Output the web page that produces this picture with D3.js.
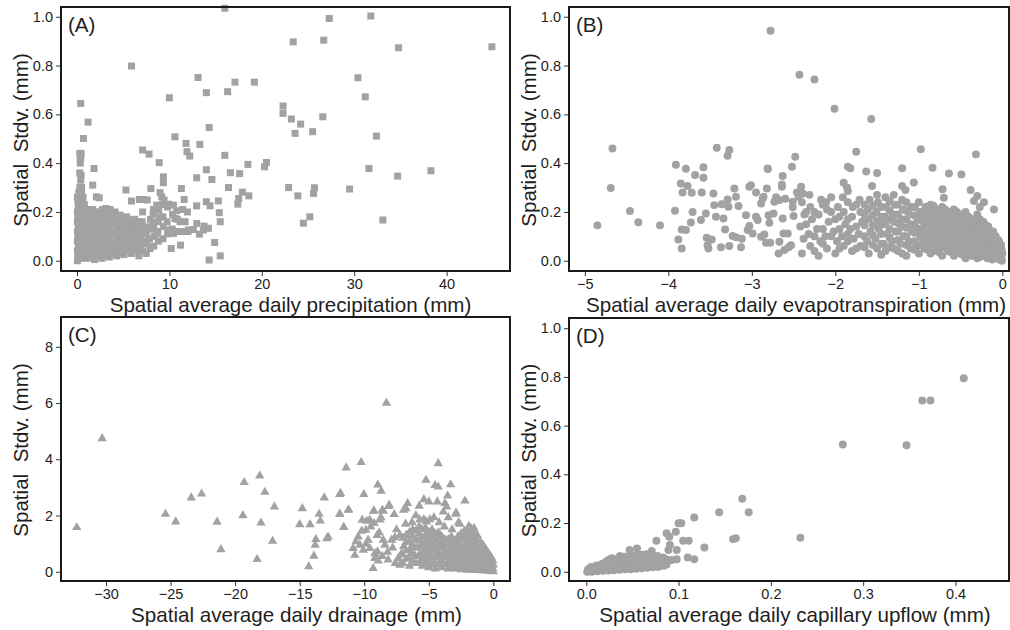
<!DOCTYPE html>
<html>
<head>
<meta charset="utf-8">
<script src="https://cdn.jsdelivr.net/npm/d3@7"></script>
<style>
  body { margin: 0; background: #fff; }
  svg text { font-family: "Liberation Sans", Arial, sans-serif; fill: #1e1e1e; }
</style>
</head>
<body>
<svg id="chart" width="1010" height="630"></svg>
<script>
// Four scatter panels: spatial stdv vs. spatial average of daily water fluxes.
// Values, [x, y] in data units.

// ─── Data ───────────────────────────────────────────────────────────────────
const precipPts = [
  // sparse, wet days
  [16.0,1.035],[27.3,0.993],[31.8,1.003],[23.4,0.897],[26.7,0.904],[34.8,0.873],[44.9,0.877],
  [5.9,0.798],[13.1,0.751],[17.1,0.732],[19.2,0.732],[14.0,0.689],[16.3,0.693],[10.0,0.668],
  [30.4,0.75],[31.2,0.672],[0.4,0.645],[1.2,0.568],[22.3,0.634],[22.3,0.604],[23.2,0.581],
  [24.2,0.56],[23.6,0.522],[26.6,0.59],[25.5,0.529],[32.4,0.511],[14.3,0.546],[10.6,0.508],
  [11.8,0.481],[13.3,0.477],[11.9,0.447],[12.2,0.429],[7.1,0.454],[7.8,0.437],[16.0,0.432],
  [8.9,0.402],[20.5,0.403],[20.3,0.385],[18.5,0.395],[31.6,0.378],[38.3,0.369],[34.7,0.347],
  [14.0,0.373],[12.95,0.34],[14.6,0.333],[9.35,0.344],[9.35,0.32],[16.6,0.361],[17.6,0.357],
  [22.9,0.3],[25.7,0.299],[25.6,0.276],[23.9,0.266],[29.5,0.294],[33.1,0.167],[24.5,0.154],
  [25.2,0.18],[16.4,0.3],[17.9,0.281],[17.5,0.255],[17.4,0.232],[18.6,0.266],[11.3,0.296],
  [11.6,0.251],[12.95,0.225],[14.0,0.242],[15.3,0.245],[14.4,0.225],[15.4,0.197],[15.5,0.16],
  [14.9,0.075],[15.5,0.02],[14.3,0.003],[11.2,0.064],[10.2,0.05],[5.3,0.29],[5.9,0.245],
  [6.75,0.251],[7.6,0.249],[8.0,0.296],[8.3,0.208],[1.84,0.378],[1.7,0.31],[2.1,0.262],
  [2.4,0.258],[0.7,0.501],[0.3,0.44],[0.35,0.426],
  // middle band 7–14 mm
  [7.18,0.251],[8.27,0.21],[8.63,0.228],[8.99,0.279],[9.17,0.262],[9.42,0.249],[9.89,0.232],
  [10.43,0.228],[10.79,0.205],[11.44,0.21],[11.95,0.2],[10.61,0.173],[11.16,0.16],[11.7,0.16],
  [12.06,0.126],[12.6,0.128],[13.25,0.109],[13.68,0.126],[14.22,0.133],[12.96,0.153],
  [13.75,0.142],[8.99,0.18],[8.27,0.156],[7.73,0.139],[8.63,0.112],[9.89,0.126],[10.43,0.112],
  [3.14,0.214],[3.57,0.21],[4.12,0.2],[4.66,0.187],[5.38,0.18],[5.92,0.167],[6.46,0.16],[7.0,0.15],
  // strip of near-zero rain days
  [0.05,0.0],[0.1,0.02],[0.05,0.04],[0.15,0.06],[0.05,0.08],[0.1,0.1],[0.05,0.12],[0.15,0.14],
  [0.05,0.16],[0.1,0.18],[0.05,0.2],[0.15,0.22],[0.1,0.24],[0.05,0.26],[0.2,0.28],[0.3,0.27],
  [0.4,0.01],[0.45,0.05],[0.35,0.09],[0.5,0.13],[0.4,0.17],[0.45,0.21],[0.35,0.25],[0.5,0.28],
  [0.75,0.02],[0.7,0.07],[0.8,0.11],[0.7,0.15],[0.75,0.19],[0.8,0.23],[0.65,0.26],
  [0.3,0.3],[0.4,0.33],[0.3,0.36],[0.45,0.35],[0.35,0.4],[0.4,0.42],[0.45,0.44],[0.5,0.3],
  [0.25,0.03],[0.25,0.07],[0.25,0.11],[0.25,0.15],[0.25,0.19],[0.25,0.23],
  [0.6,0.04],[0.6,0.09],[0.6,0.13],[0.6,0.17],[0.6,0.21],[0.6,0.25],
  // dense mass 1–10 mm
  [1.1,0.01],[1.15,0.05],[1.1,0.09],[1.05,0.13],[1.1,0.17],[1.15,0.21],
  [1.3,0.03],[1.3,0.07],[1.3,0.11],[1.3,0.15],[1.3,0.19],
  [1.5,0.03],[1.45,0.07],[1.5,0.11],[1.55,0.15],[1.5,0.19],
  [1.7,0.015],[1.7,0.05],[1.7,0.09],[1.7,0.13],[1.7,0.17],[1.7,0.21],
  [1.9,0.005],[1.95,0.04],[1.9,0.08],[1.85,0.12],[1.9,0.16],[1.95,0.2],
  [2.1,0.04],[2.1,0.08],[2.1,0.12],[2.1,0.16],[2.1,0.2],
  [2.3,0.02],[2.25,0.06],[2.3,0.1],[2.35,0.14],[2.3,0.18],
  [2.5,0.03],[2.5,0.065],[2.5,0.105],[2.5,0.145],[2.5,0.185],
  [2.7,0.01],[2.75,0.045],[2.7,0.085],[2.65,0.125],[2.7,0.165],[2.75,0.21],
  [2.9,0.02],[2.9,0.05],[2.9,0.09],[2.9,0.13],[2.9,0.17],
  [3.1,0.03],[3.15,0.07],[3.1,0.11],[3.05,0.15],[3.1,0.19],
  [3.3,0.035],[3.3,0.07],[3.3,0.11],[3.3,0.15],[3.3,0.19],
  [3.5,0.015],[3.45,0.05],[3.5,0.09],[3.55,0.13],[3.5,0.17],[3.45,0.205],
  [3.7,0.03],[3.7,0.07],[3.7,0.11],[3.7,0.15],[3.7,0.185],
  [3.9,0.03],[3.95,0.07],[3.9,0.11],[3.85,0.15],[3.9,0.19],
  [4.1,0.04],[4.1,0.075],[4.1,0.115],[4.1,0.155],[4.1,0.19],
  [4.3,0.02],[4.25,0.055],[4.3,0.095],[4.35,0.135],[4.3,0.175],
  [4.5,0.04],[4.5,0.08],[4.5,0.12],[4.5,0.16],
  [4.7,0.03],[4.75,0.07],[4.7,0.11],[4.65,0.15],
  [4.9,0.045],[4.9,0.085],[4.9,0.125],[4.9,0.165],
  [5.1,0.025],[5.05,0.06],[5.1,0.1],[5.15,0.14],[5.1,0.175],
  [5.3,0.04],[5.3,0.08],[5.3,0.12],[5.3,0.155],
  [5.5,0.04],[5.55,0.08],[5.5,0.12],[5.45,0.16],
  [5.7,0.055],[5.7,0.095],[5.7,0.135],
  [5.9,0.03],[5.85,0.07],[5.9,0.11],[5.95,0.15],
  [6.1,0.05],[6.1,0.09],[6.1,0.13],[6.1,0.16],
  [6.3,0.05],[6.35,0.09],[6.3,0.13],[6.25,0.17],
  [6.5,0.04],[6.5,0.08],[6.5,0.12],[6.5,0.155],
  [6.7,0.02],[6.65,0.06],[6.7,0.1],[6.75,0.14],
  [6.9,0.06],[6.9,0.1],[6.9,0.14],
  [7.1,0.04],[7.15,0.08],[7.1,0.12],[7.05,0.16],[7.1,0.2],
  [7.5,0.03],[7.55,0.07],[7.5,0.11],
  [7.9,0.05],[7.85,0.09],[7.9,0.13],[7.95,0.17],
  [8.3,0.06],[8.35,0.1],[8.3,0.14],[8.25,0.19],
  [8.8,0.08],[8.75,0.12],[8.8,0.16],[8.85,0.21],
  [9.3,0.09],[9.35,0.14],[9.3,0.18],[9.25,0.23],
  [9.8,0.11],[9.75,0.16],[9.8,0.22],[10.3,0.13],[10.35,0.19],[10.8,0.12],[10.85,0.17],
  [11.3,0.12],[12.0,0.12]
];

const evapPts = [
  // sparse
  [-2.776,0.943],[-2.43,0.762],[-2.25,0.743],[-2.01,0.623],[-1.57,0.581],[-4.67,0.46],
  [-4.69,0.298],[-4.85,0.145],[-4.46,0.204],[-4.36,0.158],[-4.1,0.145],[-3.91,0.393],
  [-3.85,0.317],[-3.79,0.377],[-3.83,0.28],[-3.77,0.306],[-3.68,0.351],[-3.72,0.279],
  [-3.58,0.383],[-3.58,0.34],[-3.6,0.28],[-3.46,0.276],[-3.42,0.463],[-3.27,0.454],
  [-3.29,0.43],[-3.92,0.205],[-3.88,0.087],[-3.84,0.05],[-3.84,0.128],[-3.79,0.126],
  [-3.73,0.157],[-3.71,0.2],[-3.61,0.167],[-3.55,0.194],[-3.54,0.094],[-3.52,0.05],
  [-3.53,0.064],[-3.48,0.087],[-3.45,0.228],[-3.43,0.18],[-3.36,0.232],[-3.34,0.173],
  [-3.37,0.055],[-3.27,0.06],[-3.32,0.128],[-3.28,0.221],[-3.29,0.251],[-3.21,0.296],
  [-3.19,0.262],[-3.16,0.224],[-3.23,0.101],[-3.19,0.096],[-3.13,0.055],[-3.12,0.09],
  [-3.07,0.187],[-3.05,0.126],[-3.03,0.142],[-3.03,0.303],[-3.01,0.31],[-2.95,0.28],
  [-2.95,0.18],[-2.93,0.167],[-2.99,0.112],[-2.89,0.235],[-2.87,0.255],[-2.89,0.098],
  [-2.85,0.108],[-2.86,0.262],[-2.81,0.378],[-2.82,0.296],[-2.8,0.187],[-2.79,0.156],
  [-2.78,0.074],[-2.83,0.074],[-2.74,0.194],[-2.73,0.242],[-2.71,0.26],[-2.67,0.249],
  [-2.67,0.078],[-2.68,0.03],[-2.64,0.303],[-2.64,0.313],[-2.63,0.347],[-2.63,0.173],
  [-2.62,0.112],[-2.61,0.044],[-2.6,0.254],[-2.56,0.055],[-2.57,0.112],[-2.52,0.385],
  [-2.48,0.426],[-2.51,0.242],[-2.51,0.219],[-2.5,0.183],[-2.53,0.064],[-2.46,0.28],
  [-2.41,0.303],[-2.44,0.262],[-2.39,0.276],
  [-1.75,0.447],[-0.976,0.457],[-0.316,0.436],[-2.81,0.376],[-1.85,0.385],[-1.82,0.379],
  [-1.63,0.366],[-1.5,0.36],[-1.2,0.379],[-0.836,0.381],[-0.64,0.358],[-0.49,0.354],
  [-1.9,0.32],[-1.85,0.286],[-1.86,0.3],[-1.56,0.306],[-1.2,0.306],[-1.06,0.321],
  [-1.16,0.29],[-0.38,0.29],[-0.716,0.293],[-0.7,0.258],[-0.3,0.265],[-0.22,0.24],
  [-0.27,0.22],[-0.1,0.21],[-0.34,0.245],
  // dense mass
  [-2.4,0.03],[-2.38,0.09],[-2.42,0.14],[-2.37,0.19],[-2.4,0.24],
  [-2.35,0.15],[-2.35,0.2],
  [-2.3,0.06],[-2.32,0.11],[-2.28,0.17],[-2.3,0.22],[-2.31,0.27],
  [-2.25,0.04],[-2.25,0.1],[-2.25,0.2],
  [-2.2,0.02],[-2.18,0.08],[-2.22,0.13],[-2.2,0.19],[-2.17,0.25],
  [-2.15,0.07],[-2.15,0.13],[-2.15,0.23],
  [-2.1,0.05],[-2.12,0.1],[-2.08,0.16],[-2.1,0.21],[-2.11,0.24],
  [-2.05,0.1],[-2.05,0.2],[-2.05,0.26],
  [-2.0,0.03],[-1.98,0.08],[-2.02,0.12],[-2.0,0.17],[-1.97,0.22],
  [-1.95,0.05],[-1.95,0.13],[-1.95,0.18],
  [-1.9,0.06],[-1.92,0.1],[-1.88,0.15],[-1.9,0.2],[-1.91,0.26],
  [-1.85,0.08],[-1.85,0.11],[-1.85,0.17],[-1.85,0.24],
  [-1.8,0.04],[-1.78,0.09],[-1.82,0.13],[-1.8,0.18],[-1.79,0.22],
  [-1.75,0.05],[-1.75,0.14],[-1.75,0.23],
  [-1.7,0.06],[-1.72,0.11],[-1.68,0.16],[-1.7,0.2],[-1.71,0.25],
  [-1.65,0.055],[-1.65,0.1],[-1.65,0.145],[-1.65,0.19],[-1.65,0.23],
  [-1.6,0.03],[-1.62,0.08],[-1.58,0.12],[-1.6,0.17],[-1.61,0.21],[-1.59,0.25],
  [-1.55,0.065],[-1.55,0.105],[-1.55,0.145],[-1.55,0.185],[-1.55,0.225],
  [-1.5,0.05],[-1.52,0.09],[-1.48,0.13],[-1.5,0.16],[-1.51,0.2],[-1.49,0.24],[-1.5,0.27],
  [-1.45,0.025],[-1.45,0.07],[-1.45,0.11],[-1.45,0.15],[-1.45,0.18],[-1.45,0.22],
  [-1.4,0.04],[-1.42,0.07],[-1.38,0.11],[-1.4,0.15],[-1.41,0.18],[-1.39,0.22],[-1.4,0.26],
  [-1.35,0.055],[-1.35,0.095],[-1.35,0.13],[-1.35,0.17],[-1.35,0.205],[-1.35,0.245],
  [-1.3,0.05],[-1.32,0.08],[-1.28,0.12],[-1.3,0.16],[-1.31,0.19],[-1.29,0.23],[-1.3,0.27],
  [-1.25,0.04],[-1.25,0.085],[-1.25,0.12],[-1.25,0.155],[-1.25,0.19],[-1.25,0.23],
  [-1.2,0.03],[-1.22,0.07],[-1.18,0.1],[-1.2,0.14],[-1.21,0.17],[-1.19,0.21],[-1.2,0.25],
  [-1.15,0.02],[-1.15,0.065],[-1.15,0.1],[-1.15,0.135],[-1.15,0.17],[-1.15,0.205],[-1.15,0.24],
  [-1.1,0.05],[-1.12,0.08],[-1.08,0.12],[-1.1,0.15],[-1.11,0.19],[-1.09,0.22],
  [-1.05,0.045],[-1.05,0.08],[-1.05,0.115],[-1.05,0.15],[-1.05,0.185],[-1.05,0.22],
  [-1.0,0.03],[-1.02,0.06],[-0.98,0.1],[-1.0,0.13],[-1.01,0.17],[-0.99,0.2],[-1.0,0.24],
  [-0.965,0.065],[-0.965,0.095],[-0.965,0.13],[-0.965,0.165],[-0.965,0.2],
  [-0.93,0.05],[-0.95,0.08],[-0.91,0.11],[-0.93,0.15],[-0.94,0.18],[-0.92,0.22],
  [-0.895,0.045],[-0.895,0.08],[-0.895,0.115],[-0.895,0.145],[-0.895,0.18],[-0.895,0.21],
  [-0.86,0.03],[-0.88,0.06],[-0.84,0.1],[-0.86,0.13],[-0.87,0.16],[-0.85,0.2],[-0.86,0.23],
  [-0.825,0.055],[-0.825,0.085],[-0.825,0.12],[-0.825,0.15],[-0.825,0.19],[-0.825,0.225],
  [-0.79,0.04],[-0.81,0.07],[-0.77,0.11],[-0.79,0.14],[-0.8,0.17],[-0.78,0.21],
  [-0.755,0.035],[-0.755,0.07],[-0.755,0.1],[-0.755,0.135],[-0.755,0.165],[-0.755,0.2],
  [-0.72,0.02],[-0.74,0.05],[-0.7,0.09],[-0.72,0.12],[-0.73,0.15],[-0.71,0.19],[-0.72,0.22],
  [-0.685,0.055],[-0.685,0.085],[-0.685,0.115],[-0.685,0.15],[-0.685,0.18],[-0.685,0.21],
  [-0.65,0.04],[-0.67,0.07],[-0.63,0.1],[-0.65,0.13],[-0.66,0.17],[-0.64,0.2],
  [-0.615,0.035],[-0.615,0.065],[-0.615,0.095],[-0.615,0.125],[-0.615,0.16],[-0.615,0.19],
  [-0.58,0.02],[-0.6,0.05],[-0.56,0.08],[-0.58,0.11],[-0.59,0.14],[-0.57,0.18],[-0.58,0.21],
  [-0.545,0.045],[-0.545,0.075],[-0.545,0.105],[-0.545,0.135],[-0.545,0.17],[-0.545,0.2],
  [-0.51,0.03],[-0.53,0.06],[-0.49,0.09],[-0.51,0.12],[-0.52,0.15],[-0.5,0.19],
  [-0.475,0.025],[-0.475,0.055],[-0.475,0.085],[-0.475,0.115],[-0.475,0.145],[-0.475,0.175],
  [-0.44,0.01],[-0.46,0.04],[-0.42,0.07],[-0.44,0.1],[-0.45,0.13],[-0.43,0.16],[-0.44,0.2],
  [-0.405,0.03],[-0.405,0.065],[-0.405,0.09],[-0.405,0.12],[-0.405,0.15],[-0.405,0.18],
  [-0.37,0.02],[-0.39,0.05],[-0.35,0.08],[-0.37,0.11],[-0.38,0.14],[-0.36,0.17],
  [-0.335,0.02],[-0.335,0.045],[-0.335,0.07],[-0.335,0.1],[-0.335,0.13],[-0.335,0.16],
  [-0.3,0.01],[-0.32,0.03],[-0.28,0.06],[-0.3,0.09],[-0.31,0.12],[-0.29,0.15],[-0.3,0.19],
  [-0.27,0.015],[-0.27,0.045],[-0.27,0.075],[-0.27,0.105],[-0.27,0.14],[-0.27,0.17],
  [-0.24,0.02],[-0.25,0.04],[-0.23,0.07],[-0.24,0.1],[-0.25,0.13],[-0.23,0.16],
  [-0.21,0.03],[-0.21,0.06],[-0.21,0.09],[-0.21,0.12],[-0.21,0.15],
  [-0.18,0.01],[-0.19,0.03],[-0.17,0.05],[-0.18,0.08],[-0.19,0.11],[-0.17,0.14],
  [-0.15,0.015],[-0.15,0.04],[-0.15,0.065],[-0.15,0.095],[-0.15,0.125],
  [-0.12,0.005],[-0.13,0.02],[-0.11,0.04],[-0.12,0.06],[-0.13,0.09],[-0.11,0.12],
  [-0.095,0.02],[-0.095,0.045],[-0.095,0.075],[-0.095,0.1],
  [-0.07,0.01],[-0.08,0.03],[-0.06,0.05],[-0.07,0.07],[-0.08,0.1],
  [-0.05,0.015],[-0.05,0.035],[-0.05,0.06],[-0.05,0.085],
  [-0.03,0.005],[-0.04,0.02],[-0.02,0.04],[-0.03,0.06],[-0.04,0.08],
  [-0.015,0.01],[-0.015,0.025],[-0.015,0.05],[-0.015,0.065],
  [-0.005,0.0],[-0.01,0.015],[0.0,0.03],[-0.01,0.045]
];

const drainPts = [
  // sparse, large drainage days
  [-32.27,1.58],[-30.3,4.74],[-25.4,2.05],[-24.6,1.78],[-23.4,2.63],[-22.6,2.77],[-21.4,1.77],
  [-21.1,0.79],[-19.4,2.0],[-19.3,3.18],[-18.1,3.41],[-17.7,2.83],[-18.0,1.74],[-18.3,0.44],
  [-16.96,2.31],[-17.1,1.09],[-14.8,2.25],[-15.0,1.68],[-14.2,1.68],[-14.3,0.18],[-13.9,0.56],
  [-13.5,2.05],[-13.4,1.81],[-13.8,0.95],[-13.75,1.15],[-13.1,2.63],[-12.9,1.18],[-12.8,1.24],
  [-11.9,2.75],[-11.9,2.05],[-11.6,1.58],[-11.4,3.7],[-11.2,2.2],[-10.24,3.89],[-10.03,2.75],
  [-8.28,6.0],[-8.95,3.09],[-8.69,2.87],[-9.26,2.16],[-8.53,2.16],[-8.12,2.33],[-7.68,2.04],
  [-8.79,1.85],[-4.27,3.85],[-5.22,3.26],[-4.52,3.07],[-4.27,3.02],[-3.31,3.1],[-3.54,2.7],
  [-2.2,2.52],[-2.9,2.05],
  [-11.84,2.79],[-5.38,2.57],[-4.99,2.49],[-4.34,2.49],[-8.07,2.37],[-6.64,2.43],[-6.77,2.25],
  [-6.95,2.19],[-5.74,2.34],[-3.75,2.43],[-3.62,2.31],[-3.88,2.13],[-2.89,2.1],[-3.49,1.93],
  [-11.25,2.19],[-11.89,2.05],[-9.26,2.17],[-8.61,2.19],[-8.71,1.93],[-10.16,1.84],[-9.82,1.8],
  [-9.57,1.84],[-9.23,1.72],[-11.58,1.58],[-9.88,1.48],[-8.84,1.39],[-5.38,1.86],[-4.91,1.86],
  [-4.6,1.93],[-10.47,1.24],[-10.65,1.07],[-10.34,0.95],[-10.73,0.59],[-10.86,0.83],
  [-10.08,0.77],[-9.88,0.98],[-9.7,1.13],[-9.57,0.83],[-9.18,0.65],[-8.97,0.71],[-9.18,0.48],
  [-8.92,0.39],[-9.31,0.12],[-8.15,0.42],[-8.53,1.13],[-8.4,0.95],[-7.88,1.13],[-7.63,1.22],
  [-7.24,1.3],[-7.37,0.48],[-7.11,0.65],[-7.24,0.24],[-1.9,1.62],[-2.6,1.7],[-1.5,1.55],
  [-9.0,1.3],[-8.2,0.7],[-7.8,0.85],[-7.5,1.5],[-7.6,0.3],[-8.6,0.55],[-9.5,1.6],[-10.2,1.45],
  [-6.8,1.7],[-6.3,1.75],[-6.0,2.0],[-5.7,1.85],[-4.2,1.75],[-3.8,1.6],[-3.2,1.5],[-2.7,1.75],
  [-5.2,1.78],
  // dense mass
  [-7.0,0.3],[-7.05,0.6],[-6.95,0.9],[-7.0,1.2],
  [-6.75,0.45],[-6.75,0.75],[-6.75,1.05],[-6.75,1.3],
  [-6.5,0.2],[-6.55,0.5],[-6.45,0.8],[-6.5,1.1],[-6.5,1.4],
  [-6.25,0.35],[-6.25,0.65],[-6.25,0.95],[-6.25,1.25],[-6.25,1.5],
  [-6.0,0.3],[-6.05,0.55],[-5.95,0.85],[-6.0,1.15],[-6.0,1.45],
  [-5.75,0.3],[-5.75,0.6],[-5.75,0.85],[-5.75,1.1],[-5.75,1.35],[-5.75,1.6],
  [-5.5,0.2],[-5.55,0.45],[-5.45,0.7],[-5.5,0.95],[-5.5,1.2],[-5.5,1.5],
  [-5.25,0.3],[-5.25,0.55],[-5.25,0.8],[-5.25,1.05],[-5.25,1.3],[-5.25,1.55],
  [-5.0,0.15],[-5.05,0.4],[-4.95,0.65],[-5.0,0.9],[-5.0,1.15],[-5.0,1.4],
  [-4.75,0.25],[-4.75,0.5],[-4.75,0.75],[-4.75,1.0],[-4.75,1.25],[-4.75,1.5],
  [-4.5,0.1],[-4.55,0.35],[-4.45,0.6],[-4.5,0.85],[-4.5,1.1],[-4.5,1.35],
  [-4.25,0.25],[-4.25,0.5],[-4.25,0.7],[-4.25,0.95],[-4.25,1.2],[-4.25,1.4],
  [-4.0,0.15],[-4.05,0.4],[-3.95,0.6],[-4.0,0.85],[-4.0,1.05],[-4.0,1.25],
  [-3.75,0.25],[-3.75,0.5],[-3.75,0.7],[-3.75,0.95],[-3.75,1.15],
  [-3.5,0.1],[-3.55,0.3],[-3.45,0.55],[-3.5,0.75],[-3.5,0.95],[-3.5,1.15],
  [-3.25,0.2],[-3.25,0.4],[-3.25,0.6],[-3.25,0.85],[-3.25,1.05],[-3.25,1.25],
  [-3.0,0.1],[-3.05,0.3],[-2.95,0.5],[-3.0,0.7],[-3.0,0.9],[-3.0,1.1],
  [-2.75,0.2],[-2.75,0.4],[-2.75,0.6],[-2.75,0.8],[-2.75,1.0],[-2.75,1.25],
  [-2.5,0.08],[-2.55,0.28],[-2.45,0.48],[-2.5,0.7],[-2.5,0.9],[-2.5,1.15],[-2.5,1.35],
  [-2.25,0.15],[-2.25,0.35],[-2.25,0.55],[-2.25,0.75],[-2.25,0.95],[-2.25,1.2],[-2.25,1.45],
  [-2.0,0.06],[-2.05,0.25],[-1.95,0.45],[-2.0,0.65],[-2.0,0.85],[-2.0,1.05],[-2.0,1.3],[-2.0,1.5],
  [-1.75,0.15],[-1.75,0.35],[-1.75,0.55],[-1.75,0.75],[-1.75,0.95],[-1.75,1.15],[-1.75,1.35],[-1.75,1.55],
  [-1.5,0.05],[-1.55,0.22],[-1.45,0.4],[-1.5,0.6],[-1.5,0.8],[-1.5,1.0],[-1.5,1.2],[-1.5,1.4],
  [-1.25,0.12],[-1.25,0.3],[-1.25,0.5],[-1.25,0.7],[-1.25,0.9],[-1.25,1.1],[-1.25,1.3],
  [-1.0,0.04],[-1.05,0.2],[-0.95,0.38],[-1.0,0.55],[-1.0,0.72],[-1.0,0.9],[-1.0,1.05],
  [-0.8,0.1],[-0.8,0.27],[-0.8,0.45],[-0.8,0.62],[-0.8,0.8],[-0.8,0.95],
  [-0.6,0.03],[-0.65,0.18],[-0.55,0.33],[-0.6,0.48],[-0.6,0.63],[-0.6,0.8],
  [-0.45,0.08],[-0.45,0.22],[-0.45,0.38],[-0.45,0.52],[-0.45,0.7],
  [-0.3,0.02],[-0.35,0.15],[-0.25,0.3],[-0.3,0.45],[-0.3,0.6],
  [-0.15,0.05],[-0.15,0.2],[-0.15,0.33],[-0.15,0.5],
  [0.0,0.01],[-0.05,0.12],[0.0,0.25],[-0.05,0.4]
];

const upflowPts = [
  // sparse
  [0.409,0.795],[0.364,0.703],[0.373,0.703],[0.278,0.523],[0.347,0.519],[0.232,0.14],
  [0.169,0.3],[0.176,0.244],[0.144,0.244],[0.159,0.134],[0.162,0.138],[0.117,0.223],
  [0.128,0.1],[0.117,0.051],[0.11,0.059],[0.111,0.127],[0.105,0.127],[0.1,0.199],
  [0.103,0.199],[0.097,0.164],[0.087,0.158],[0.09,0.144],[0.0906,0.11],[0.098,0.089],
  [0.089,0.089],[0.098,0.051],[0.0925,0.048],[0.076,0.127],[0.047,0.089],[0.055,0.096],
  [0.071,0.085],[0.077,0.065],[0.083,0.059],[0.0275,0.055],[0.0365,0.065],[0.064,0.07],
  // dense band
  [0.001,0.0],[0.002,0.01],[0.003,0.006],
  [0.006,0.0],[0.007,0.012],[0.005,0.02],[0.009,0.006],[0.009,0.016],
  [0.012,0.002],[0.013,0.014],[0.011,0.026],[0.015,0.008],[0.015,0.02],
  [0.018,0.004],[0.019,0.018],[0.017,0.032],[0.021,0.01],[0.021,0.026],[0.021,0.04],
  [0.024,0.005],[0.025,0.02],[0.023,0.036],[0.024,0.048],[0.027,0.012],[0.027,0.03],[0.027,0.044],
  [0.03,0.006],[0.031,0.022],[0.029,0.04],[0.03,0.052],[0.033,0.015],[0.033,0.032],[0.033,0.05],
  [0.036,0.008],[0.037,0.025],[0.035,0.044],[0.036,0.056],[0.039,0.018],[0.039,0.036],[0.039,0.054],
  [0.042,0.01],[0.043,0.028],[0.041,0.048],[0.042,0.062],[0.045,0.02],[0.045,0.04],[0.045,0.058],
  [0.048,0.01],[0.049,0.03],[0.047,0.05],[0.048,0.066],[0.051,0.02],[0.051,0.04],[0.051,0.06],
  [0.054,0.012],[0.055,0.032],[0.053,0.052],[0.054,0.068],[0.057,0.022],[0.057,0.044],[0.057,0.062],
  [0.06,0.014],[0.061,0.034],[0.059,0.055],[0.06,0.07],[0.063,0.025],[0.063,0.046],[0.063,0.064],
  [0.066,0.016],[0.067,0.036],[0.065,0.056],[0.066,0.072],[0.069,0.027],[0.069,0.05],[0.069,0.068],
  [0.072,0.018],[0.073,0.04],[0.071,0.06],[0.075,0.03],[0.075,0.052],
  [0.078,0.02],[0.079,0.044],[0.077,0.062],[0.081,0.035],[0.081,0.056],
  [0.084,0.025],[0.085,0.048],[0.087,0.03],[0.087,0.05]
];

const precipTicksX = [0, 10, 20, 30, 40];
const evapTicksX   = [-5, -4, -3, -2, -1, 0];
const drainTicksX  = [-30, -25, -20, -15, -10, -5, 0];
const upflowTicksX = [0, 0.1, 0.2, 0.3, 0.4];
const stdvTicks    = [0, 0.2, 0.4, 0.6, 0.8, 1.0];
const drainTicksY  = [0, 2, 4, 6, 8];

// ─── Layout ─────────────────────────────────────────────────────────────────
const POINT_FILL = '#a2a2a2';
const TICK_FONT = 14.5;
const TITLE_FONT = 20.6;

const panels = [
  { tag: '(A)', pts: precipPts, sym: d3.symbolSquare, size: 49,
    box: [61, 7, 510, 271], xDom: [-1.73, 46.86], yDom: [-0.042, 1.04],
    xTicks: precipTicksX, xFmt: d3.format('d'), yTicks: stdvTicks, yFmt: d3.format('.1f'),
    xTitle: 'Spatial average daily precipitation (mm)', xTitleDx: 5 },
  { tag: '(B)', pts: evapPts, sym: d3.symbolCircle, size: 50,
    box: [569, 7, 1009, 271], xDom: [-5.19, 0.08], yDom: [-0.042, 1.04],
    xTicks: evapTicksX, xFmt: d3.format('d'), yTicks: stdvTicks, yFmt: d3.format('.1f'),
    xTitle: 'Spatial average daily evapotranspiration (mm)', xTitleDx: 7 },
  { tag: '(C)', pts: drainPts, sym: d3.symbolTriangle, size: 38,
    box: [61, 317, 510, 581], xDom: [-33.49, 1.29], yDom: [-0.33, 9.06],
    xTicks: drainTicksX, xFmt: d3.format('d'), yTicks: drainTicksY, yFmt: d3.format('d'),
    xTitle: 'Spatial average daily drainage (mm)', xTitleDx: 11 },
  { tag: '(D)', pts: upflowPts, sym: d3.symbolCircle, size: 50,
    box: [569, 318, 1009, 581], xDom: [-0.0187, 0.458], yDom: [-0.038, 1.042],
    xTicks: upflowTicksX, xFmt: d3.format('.1f'), yTicks: stdvTicks, yFmt: d3.format('.1f'),
    xTitle: 'Spatial average daily capillary upflow (mm)', xTitleDx: 6 }
];

const svg = d3.select('#chart');

panels.forEach(p => {
  const [x0, y0, x1, y1] = p.box;
  const x = d3.scaleLinear().domain(p.xDom).range([x0, x1]);
  const y = d3.scaleLinear().domain(p.yDom).range([y1, y0]);
  const g = svg.append('g');

  // points
  const sym = d3.symbol().type(p.sym).size(p.size);
  g.append('g').selectAll('path')
    .data(p.pts)
    .join('path')
      .attr('d', sym)
      .attr('transform', d => `translate(${x(d[0])},${y(d[1])})`)
      .attr('fill', POINT_FILL);

  // axes — box is drawn separately, so drop the domain paths
  const xAxis = g.append('g')
    .attr('transform', `translate(0,${y1})`)
    .call(d3.axisBottom(x).tickValues(p.xTicks).tickFormat(p.xFmt).tickSize(5).tickPadding(3));
  const yAxis = g.append('g')
    .attr('transform', `translate(${x0},0)`)
    .call(d3.axisLeft(y).tickValues(p.yTicks).tickFormat(p.yFmt).tickSize(5).tickPadding(3));
  [xAxis, yAxis].forEach(a => {
    a.select('.domain').remove();
    a.selectAll('line').attr('stroke', '#333');
    a.selectAll('text').attr('font-size', TICK_FONT).attr('fill', '#1e1e1e')
      .style('font-family', '"Liberation Sans", Arial, sans-serif');
  });

  // frame
  g.append('rect')
    .attr('x', x0).attr('y', y0)
    .attr('width', x1 - x0).attr('height', y1 - y0)
    .attr('fill', 'none').attr('stroke', '#1a1a1a').attr('stroke-width', 2);

  // panel tag
  g.append('text')
    .attr('x', x0 + 7).attr('y', y0 + 24.5)
    .attr('font-size', TITLE_FONT)
    .text(p.tag);

  // axis titles
  g.append('text')
    .attr('x', (x0 + x1) / 2 + p.xTitleDx).attr('y', y1 + 41)
    .attr('text-anchor', 'middle')
    .attr('font-size', TITLE_FONT)
    .text(p.xTitle);

  g.append('text')
    .attr('transform', `translate(${x0 - 33},${(y0 + y1) / 2 + 1}) rotate(-90)`)
    .attr('text-anchor', 'middle')
    .attr('font-size', TITLE_FONT)
    .attr('xml:space', 'preserve')
    .style('white-space', 'pre')
    .text('Spatial  Stdv. (mm)');
});
</script>
</body>
</html>
